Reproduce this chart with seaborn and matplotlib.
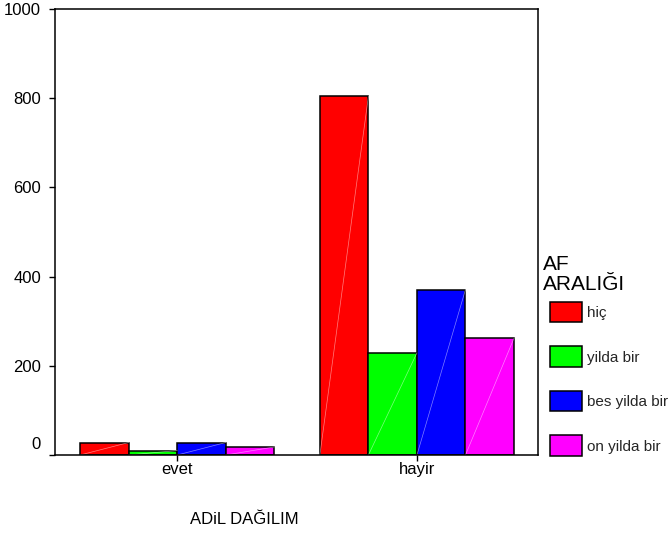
import pandas as pd
import matplotlib
matplotlib.use("Agg")
import matplotlib.pyplot as plt
import matplotlib.transforms as mtransforms
import seaborn as sns

# data
groups = ['evet', 'hayir']
levels = ['hiç', 'yilda bir', 'bes yilda bir', 'on yilda bir']
evet_counts = [28, 10, 28, 18]
hayir_counts = [804, 229, 371, 262]
colors = ['#ff0000', '#00ff00', '#0000ff', '#ff00ff']

rows = []
for g, counts in zip(groups, [evet_counts, hayir_counts]):
    for lev, c in zip(levels, counts):
        rows.append({'ADiL DAĞILIM': g, 'AF ARALIĞI': lev, 'count': c})
df = pd.DataFrame(rows)

sns.set_theme(style='white')
plt.rcParams['font.family'] = ['Liberation Sans', 'DejaVu Sans']

fig = plt.figure(figsize=(6.72, 5.35), dpi=100)
ax = fig.add_axes([55/672, 1 - 455/535, (538 - 55)/672, (455 - 9)/535])

sns.barplot(data=df, x='ADiL DAĞILIM', y='count', hue='AF ARALIĞI',
            order=groups, hue_order=levels, palette=colors, width=0.81,
            edgecolor='black', linewidth=1.1, saturation=1, ax=ax)

# thin white diagonal in each bar, like the SPSS rendering
for p in ax.patches:
    x0, h, w = p.get_x(), p.get_height(), p.get_width()
    if h > 0:
        ax.plot([x0, x0 + w], [0, h], color='white', lw=0.5, alpha=0.5, zorder=p.get_zorder() + 0.1)

ax.set_xlim(-0.51, 1.505)
ax.set_ylim(0, 1000)
ax.set_yticks([0, 200, 400, 600, 800, 1000])
ax.set_xlabel('')
ax.set_ylabel('')
for s in ax.spines.values():
    s.set_color('black')
    s.set_linewidth(1.1)
ax.tick_params(axis='both', which='both', direction='out', length=4, width=1,
               color='black', labelsize=12, labelcolor='black', left=True, bottom=True)
ax.tick_params(axis='y', pad=6)
ax.tick_params(axis='x', pad=1)

# the "0" label sits a bit above the baseline in the reference
lab0 = ax.get_yticklabels()[0]
lab0.set_transform(lab0.get_transform() + mtransforms.ScaledTranslation(0, 12/100, fig.dpi_scale_trans))

ax.get_legend().remove()
handles = [plt.Rectangle((0, 0), 1, 1, facecolor=c, edgecolor='black', linewidth=1.1) for c in colors]
leg = fig.legend(handles, levels, loc='upper left',
                 bbox_to_anchor=(550/672, 1 - 302/535), frameon=False,
                 fontsize=11, handlelength=2.1, handleheight=1.67,
                 labelspacing=1.58, handletextpad=0.35, borderaxespad=0, borderpad=0)

fig.text(543/672, 1 - 255/535, 'AF\nARALIĞI', ha='left', va='top', fontsize=15,
         color='black', linespacing=1.05)

fig.text(244/672, 1 - 519/535, 'ADiL DAĞILIM', ha='center', va='center', fontsize=12, color='black')

fig.savefig('out.png', dpi=100)
